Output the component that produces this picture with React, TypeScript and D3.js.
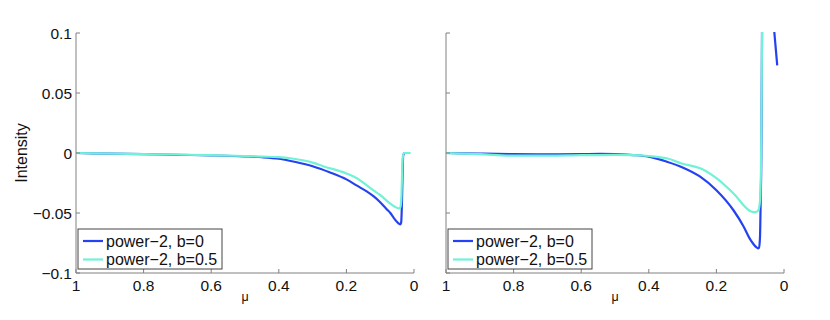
import React from "react";
import * as d3 from "d3";

const xTicks = [1, 0.8, 0.6, 0.4, 0.2, 0];
const yTicks = [0.1, 0.05, 0, -0.05, -0.1];
const yTickLabels = ["0.1", "0.05", "0", "\u22120.05", "\u22120.1"];
const xTickLabels = ["1", "0.8", "0.6", "0.4", "0.2", "0"];
const seriesNames = ["power\u22122, b=0", "power\u22122, b=0.5"];
const colors = ["#2442f0", "#70f2d6"];

// left panel
const leftMuB0 = [1, 0.9, 0.8, 0.7, 0.6, 0.5, 0.45, 0.4, 0.35, 0.3, 0.25, 0.2, 0.17, 0.14, 0.12, 0.1, 0.08, 0.07, 0.06, 0.05, 0.044, 0.041, 0.038, 0.036, 0.034, 0.032, 0.028, 0.02, 0.012];
const leftValB0 = [0, -0.0005, -0.001, -0.0015, -0.002, -0.0028, -0.0035, -0.0048, -0.0075, -0.011, -0.016, -0.022, -0.027, -0.032, -0.036, -0.041, -0.047, -0.050, -0.054, -0.0575, -0.059, -0.0595, -0.058, -0.045, -0.02, -0.002, 0, 0, 0];
const leftMuB05 = [1, 0.8, 0.6, 0.5, 0.45, 0.4, 0.366, 0.3, 0.269, 0.2, 0.169, 0.121, 0.1, 0.071, 0.055, 0.047, 0.043, 0.04, 0.037, 0.035, 0.033, 0.03, 0.02, 0.01];
const leftValB05 = [0, -0.001, -0.0018, -0.0025, -0.003, -0.0035, -0.0044, -0.008, -0.011, -0.017, -0.021, -0.031, -0.035, -0.042, -0.045, -0.046, -0.0462, -0.045, -0.035, -0.015, -0.003, 0, 0, 0];

// right panel
const rightMuB0 = [1, 0.9, 0.8, 0.7, 0.6, 0.544, 0.5, 0.445, 0.4, 0.347, 0.3, 0.248, 0.2, 0.15, 0.12, 0.1, 0.09, 0.082, 0.077, 0.074, 0.071, 0.069, 0.067, 0.066, 0.064];
const rightValB0 = [0, -0.0005, -0.001, -0.0012, -0.001, -0.0008, -0.001, -0.0017, -0.003, -0.0072, -0.012, -0.0197, -0.031, -0.0475, -0.061, -0.072, -0.076, -0.0785, -0.0795, -0.079, -0.07, -0.04, 0, 0.05, 0.15];
const rightMuB0Tail = [0.03, 0.02];
const rightValB0Tail = [0.105, 0.073];
const rightMuB05 = [1, 0.9, 0.8, 0.7, 0.6, 0.5, 0.445, 0.4, 0.347, 0.3, 0.248, 0.2, 0.15, 0.1, 0.09, 0.082, 0.076, 0.071, 0.068, 0.066, 0.064];
const rightValB05 = [0, -0.001, -0.0022, -0.0022, -0.0018, -0.0015, -0.0017, -0.0025, -0.0044, -0.009, -0.0128, -0.021, -0.0336, -0.0483, -0.0492, -0.049, -0.0478, -0.04, -0.01, 0.05, 0.15];

const zip = (a: number[], b: number[]) => a.map((m, i) => [m, b[i]] as [number, number]);

const TOP = 33;
const BOTTOM = 273;
const FONT = "'Liberation Sans', Arial, Helvetica, sans-serif";
const AXIS = "#808080";
const FS = 15.5;
const LFS = 16;

function Panel({ x0, x1, showYLabels, lines, id }: { x0: number; x1: number; showYLabels: boolean; lines: { pts: [number, number][]; color: string }[]; id: string }) {
  const x = d3.scaleLinear().domain([1, 0]).range([x0, x1]);
  const y = d3.scaleLinear().domain([-0.1, 0.1]).range([BOTTOM, TOP]);
  const line = d3.line<[number, number]>().x((d) => x(d[0])).y((d) => y(d[1])).curve(d3.curveMonotoneX);
  const lx = x0 + 2;
  const ly = 229;
  return (
    <g>
      <defs>
        <clipPath id={id}>
          <rect x={x0} y={TOP - 1} width={x1 - x0} height={BOTTOM - TOP + 2} />
        </clipPath>
      </defs>
      <g clipPath={`url(#${id})`}>
        {lines.map((l, i) => (
          <path key={i} d={line(l.pts) || ""} fill="none" stroke={l.color} strokeWidth={2.2} strokeLinejoin="round" />
        ))}
      </g>
      <line x1={x0} x2={x0} y1={TOP} y2={BOTTOM} stroke={AXIS} strokeWidth={1} />
      <line x1={x0} x2={x1} y1={BOTTOM} y2={BOTTOM} stroke={AXIS} strokeWidth={1} />
      {yTicks.map((t, i) => (
        <g key={"y" + i}>
          <line x1={x0} x2={x0 + 4} y1={y(t)} y2={y(t)} stroke={AXIS} />
          {showYLabels && (
            <text x={x0 - 4} y={y(t) + 5.5} textAnchor="end" fontSize={FS} fontFamily={FONT} fill="#111">
              {yTickLabels[i]}
            </text>
          )}
        </g>
      ))}
      {xTicks.map((t, i) => (
        <g key={"x" + i}>
          <line x1={x(t)} x2={x(t)} y1={BOTTOM} y2={BOTTOM - 4} stroke={AXIS} />
          <text x={x(t)} y={291} textAnchor="middle" fontSize={FS} fontFamily={FONT} fill="#111">
            {xTickLabels[i]}
          </text>
        </g>
      ))}
      <text x={(x0 + x1) / 2} y={301} textAnchor="middle" fontSize={12.5} fontFamily={FONT} fill="#111">
        μ
      </text>
      <rect x={lx} y={ly} width={144} height={40} fill="white" stroke="#444" strokeWidth={1} />
      {seriesNames.map((n, i) => (
        <g key={"l" + i}>
          <line x1={lx + 5} x2={lx + 25} y1={ly + 12 + i * 18.5} y2={ly + 12 + i * 18.5} stroke={colors[i]} strokeWidth={2.2} />
          <text x={lx + 28} y={ly + 17.5 + i * 18.5} fontSize={LFS} fontFamily={FONT} fill="#111">
            {n}
          </text>
        </g>
      ))}
    </g>
  );
}

export default function App() {
  return (
    <svg width={830} height={320} style={{ position: "absolute", left: 0, top: 0, background: "white" }}>
      <rect width={830} height={320} fill="white" />
      <text transform="translate(27,153) rotate(-90)" textAnchor="middle" fontSize={16} fontFamily={FONT} fill="#111">
        Intensity
      </text>
      <Panel
        id="clipL"
        x0={76}
        x1={414}
        showYLabels={true}
        lines={[
          { pts: zip(leftMuB0, leftValB0), color: colors[0] },
          { pts: zip(leftMuB05, leftValB05), color: colors[1] },
        ]}
      />
      <Panel
        id="clipR"
        x0={446}
        x1={784}
        showYLabels={false}
        lines={[
          { pts: zip(rightMuB0, rightValB0), color: colors[0] },
          { pts: zip(rightMuB0Tail, rightValB0Tail), color: colors[0] },
          { pts: zip(rightMuB05, rightValB05), color: colors[1] },
        ]}
      />
    </svg>
  );
}
